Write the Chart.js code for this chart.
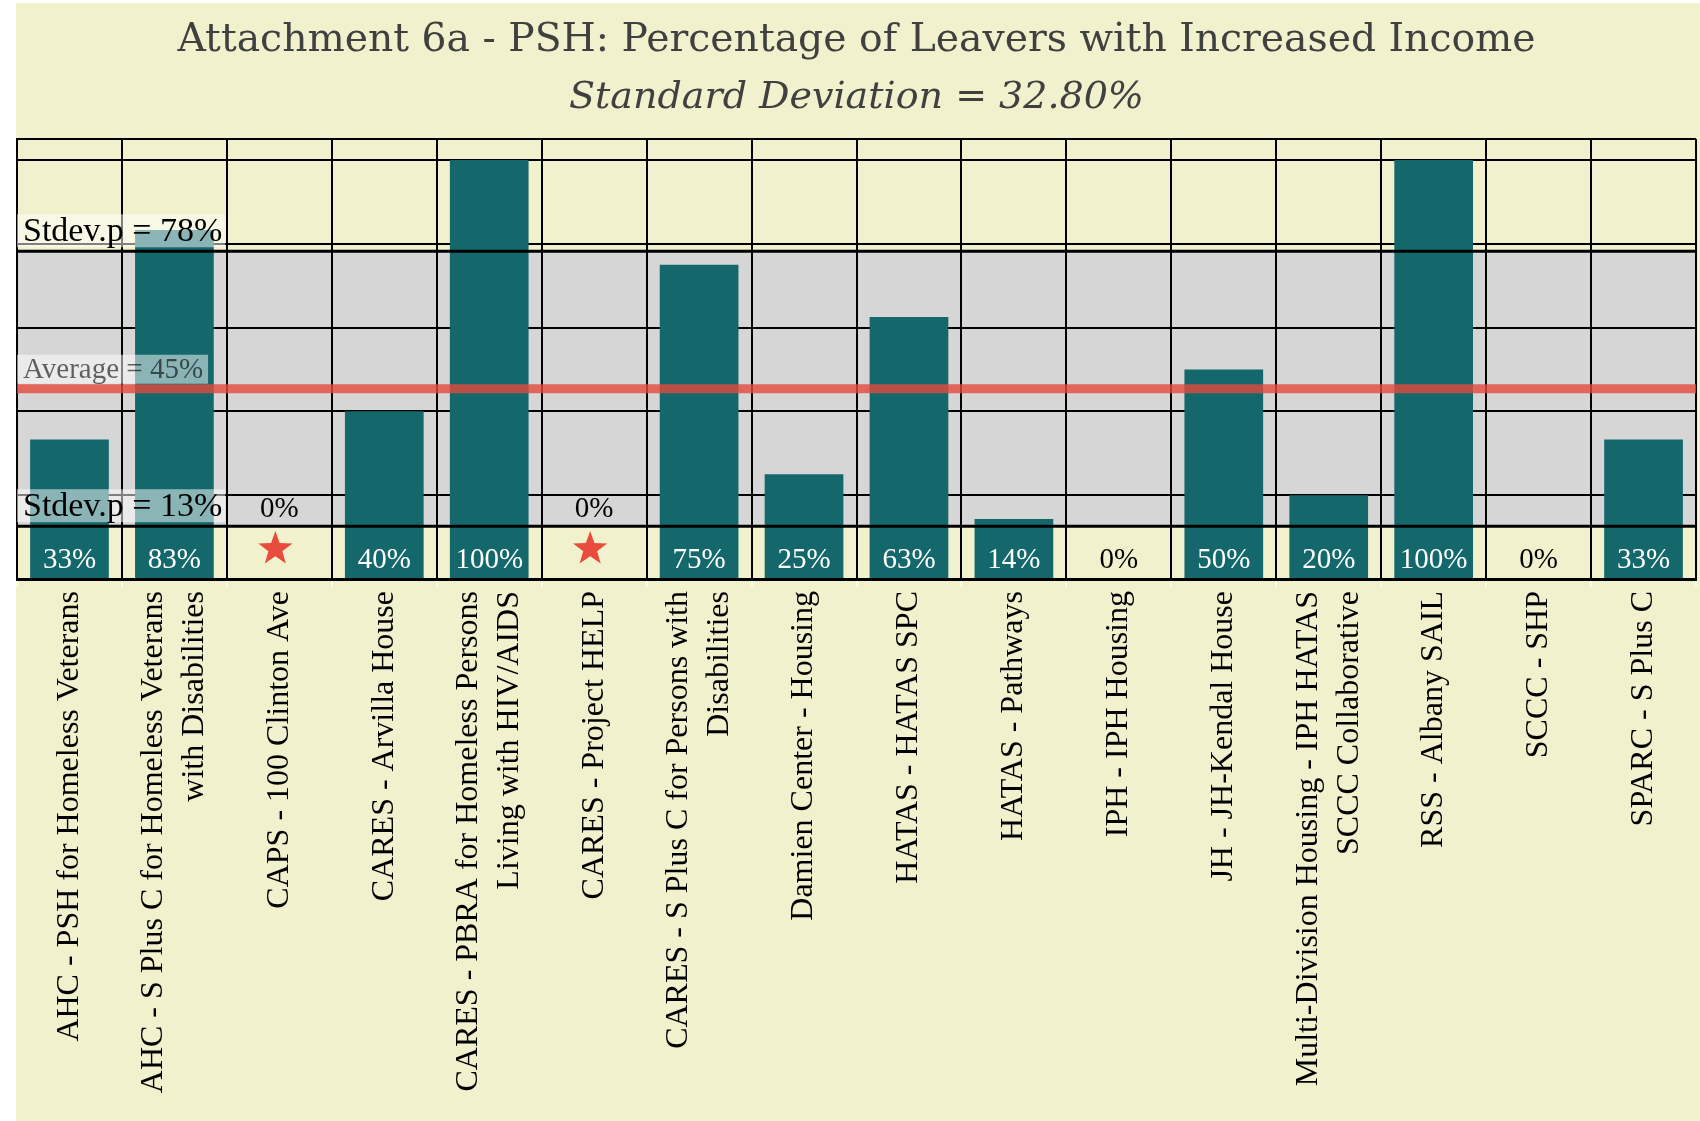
<!DOCTYPE html>
<html><head><meta charset="utf-8">
<script src="https://cdn.jsdelivr.net/npm/chart.js@4.4.0/dist/chart.umd.min.js"></script>
<style>
html,body{margin:0;padding:0;background:#fff;}
#wrap{position:absolute;left:16px;top:3px;width:1684px;height:1118px;background:#F1F1CE;}
canvas{display:block;}
</style></head><body>
<div id="wrap"><canvas id="c" width="1684" height="1118"></canvas></div>
<script>
const titleText = 'Attachment 6a - PSH: Percentage of Leavers with Increased Income';
const subtitleText = 'Standard Deviation = 32.80%';
const categories = [
  'AHC - PSH for Homeless Veterans',
  ['AHC - S Plus C for Homeless Veterans', 'with Disabilities'],
  'CAPS - 100 Clinton Ave',
  'CARES - Arvilla House',
  ['CARES - PBRA for Homeless Persons', 'Living with HIV/AIDS'],
  'CARES - Project HELP',
  ['CARES - S Plus C for Persons with', 'Disabilities'],
  'Damien Center - Housing',
  'HATAS - HATAS SPC',
  'HATAS - Pathways',
  'IPH - IPH Housing',
  'JH - JH-Kendal House',
  ['Multi-Division Housing - IPH HATAS', 'SCCC Collaborative'],
  'RSS - Albany SAIL',
  'SCCC - SHP',
  'SPARC - S Plus C'
];
const values = [33.3, 83.3, 0, 40, 100, 0, 75, 25, 62.5, 14.3, 0, 50, 20, 100, 0, 33.3];
const flagged = [false, false, true, false, false, true, false, false, false, false, false, false, false, false, false, false];
const averageValue = 45.4;
const stdevValue = 32.8;
const yGridValues = [0, 20, 40, 60, 80, 100, 105];

function drawStar(ctx, cx, cy, R, r) {
  ctx.beginPath();
  for (let k = 0; k < 10; k++) {
    const rad = k % 2 === 0 ? R : r;
    const ang = -Math.PI / 2 + k * Math.PI / 5;
    ctx.lineTo(cx + rad * Math.cos(ang), cy + rad * Math.sin(ang));
  }
  ctx.closePath();
  ctx.fill();
}

function labelBox(ctx, left, lineY, text, font, color, gap, h, baseOff, padL, padR) {
  ctx.font = font;
  const w = ctx.measureText(text).width;
  ctx.fillStyle = 'rgba(255,255,255,0.5)';
  ctx.fillRect(left, lineY - gap - h, w + padL + padR, h);
  ctx.fillStyle = color;
  ctx.textAlign = 'left';
  ctx.textBaseline = 'alphabetic';
  ctx.fillText(text, left + padL, lineY - baseOff);
}

const overlayPlugin = {
  id: 'overlay',
  beforeDraw(chart) {
    const {ctx, chartArea: a, scales: {y}} = chart;
    const top = y.getPixelForValue(averageValue + stdevValue);
    const bot = y.getPixelForValue(averageValue - stdevValue);
    ctx.save();
    ctx.fillStyle = '#D6D6D6';
    ctx.fillRect(a.left, top, a.right - a.left, bot - top);
    ctx.restore();
  },
  afterDatasetsDraw(chart) {
    const {ctx, chartArea: a, scales: {y}} = chart;
    const up = y.getPixelForValue(averageValue + stdevValue);
    const lo = y.getPixelForValue(averageValue - stdevValue);
    const av = y.getPixelForValue(averageValue);
    ctx.save();
    ctx.strokeStyle = '#000';
    ctx.lineWidth = 3;
    [up, lo].forEach(p => { ctx.beginPath(); ctx.moveTo(a.left, p); ctx.lineTo(a.right, p); ctx.stroke(); });
    ctx.strokeStyle = 'rgba(228,72,60,0.8)';
    ctx.lineWidth = 9;
    ctx.beginPath(); ctx.moveTo(a.left, av); ctx.lineTo(a.right, av); ctx.stroke();

    const f34 = '34px "Liberation Serif"';
    labelBox(ctx, a.left, up, 'Stdev.p = ' + Math.round(averageValue + stdevValue) + '%', f34, '#000', 4, 33, 10, 6, 3);
    labelBox(ctx, a.left, lo, 'Stdev.p = ' + Math.round(averageValue - stdevValue) + '%', f34, '#000', 4, 33, 10, 6, 3);
    labelBox(ctx, a.left, av, 'Average = ' + Math.round(averageValue) + '%', '29px "Liberation Serif"', 'rgba(0,0,0,0.6)', 5, 29, 11, 6, 5);

    const meta = chart.getDatasetMeta(0);
    const base = y.getPixelForValue(0);
    ctx.font = '29px "Liberation Serif"';
    ctx.textAlign = 'center';
    ctx.textBaseline = 'middle';
    meta.data.forEach((bar, i) => {
      const v = values[i];
      const txt = Math.round(v) + '%';
      if (flagged[i]) {
        ctx.fillStyle = '#000';
        ctx.fillText(txt, bar.x, base - 70);
        ctx.fillStyle = '#E84C3D';
        drawStar(ctx, bar.x - 4, base - 30, 18, 7.3);
      } else {
        ctx.fillStyle = v > 0 ? '#fff' : '#000';
        ctx.fillText(txt, bar.x, base - 19);
      }
    });
    ctx.restore();
  },
  afterDraw(chart) {
    const {ctx, scales: {x}} = chart;
    ctx.save();
    ctx.font = '32px "Liberation Serif"';
    ctx.fillStyle = '#000';
    ctx.textAlign = 'right';
    ctx.textBaseline = 'middle';
    const lh = 41;
    const topY = x.bottom + 4;
    categories.forEach((lab, i) => {
      const lines = Array.isArray(lab) ? lab : [lab];
      const cx = x.getPixelForValue(i);
      ctx.save();
      ctx.translate(cx, topY);
      ctx.rotate(-Math.PI / 2);
      lines.forEach((ln, j) => ctx.fillText(ln, 0, (j - (lines.length - 1) / 2) * lh));
      ctx.restore();
    });
    ctx.restore();
  }
};

new Chart(document.getElementById('c'), {
  type: 'bar',
  data: {
    labels: categories,
    datasets: [{
      data: values,
      backgroundColor: '#14686B',
      borderWidth: 0,
      barPercentage: 0.75,
      categoryPercentage: 1
    }]
  },
  options: {
    responsive: false,
    animation: false,
    layout: { padding: { left: 1, right: 4, top: 0, bottom: 534 } },
    plugins: {
      legend: { display: false },
      tooltip: { enabled: false },
      title: {
        display: true, text: titleText, color: '#404040',
        font: { family: 'DejaVu Serif', size: 39.3, weight: 'normal', lineHeight: 1.2 },
        padding: { top: 14, bottom: 0 }
      },
      subtitle: {
        display: true, text: subtitleText, color: '#404040',
        font: { family: 'DejaVu Serif', size: 38, style: 'italic', weight: 'normal', lineHeight: 1.2 },
        padding: { top: 11, bottom: 18.2 }
      }
    },
    scales: {
      x: {
        grid: { color: '#000', lineWidth: 2, drawTicks: true, tickLength: 8, tickColor: 'rgba(255,255,255,0.7)', offset: true },
        border: { display: true, color: '#000', width: 3 },
        ticks: { display: false }
      },
      y: {
        min: 0, max: 105,
        afterBuildTicks: s => { s.ticks = yGridValues.map(v => ({ value: v })); },
        grid: { color: '#000', lineWidth: 2, drawTicks: false },
        border: { display: true, color: '#000', width: 2 },
        ticks: { display: false }
      }
    }
  },
  plugins: [overlayPlugin]
});
</script>
</body></html>
